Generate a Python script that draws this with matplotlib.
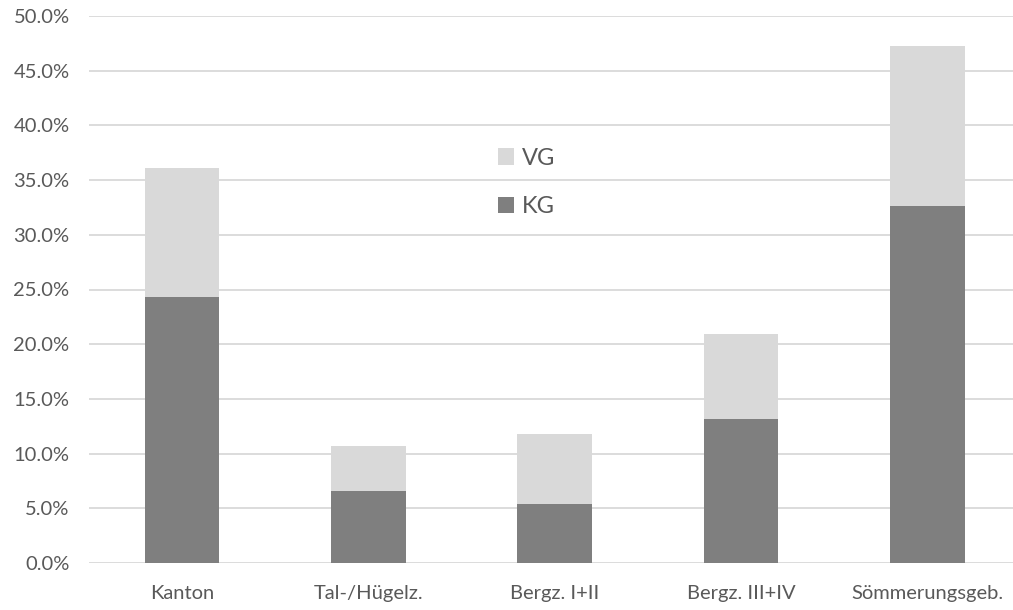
import numpy as np
import matplotlib
matplotlib.use("Agg")
import matplotlib.pyplot as plt
from matplotlib.ticker import PercentFormatter

plt.rcParams['font.family'] = ['Lato', 'DejaVu Sans']

# Anteile pro Zone (in %)
zonen = ["Kanton", "Tal-/Hügelz.", "Bergz. I+II", "Bergz. III+IV", "Sömmerungsgeb."]
kg = [24.3, 6.6, 5.4, 13.2, 32.6]
vg_gesamt = [36.1, 10.7, 11.8, 20.9, 47.3]
vg = [t - k for t, k in zip(vg_gesamt, kg)]

fig = plt.figure(figsize=(10.13, 6.10), dpi=100)
ax = fig.add_axes([89 / 1013, 1 - 563 / 610, 1 - 89 / 1013, (563 - 16) / 610])

x = np.arange(len(zonen))
b_kg = ax.bar(x, kg, width=0.40, color="#7f7f7f", label="KG", zorder=3)
b_vg = ax.bar(x, vg, width=0.40, bottom=kg, color="#d9d9d9", label="VG", zorder=3)

ax.set_ylim(0, 50)
ax.set_xlim(-0.5, 4.46)
ax.set_yticks(np.arange(0, 50.1, 5))
ax.yaxis.set_major_formatter(PercentFormatter(decimals=1))
ax.set_xticks(x)
ax.set_xticklabels(zonen)
ax.grid(axis="y", color="#d9d9d9", linewidth=1.3, zorder=0)
ax.tick_params(axis="y", length=0, pad=14, labelsize=14.5, labelcolor="#595959")
ax.tick_params(axis="x", length=0, pad=16, labelsize=14.5, labelcolor="#595959")
for s in ax.spines.values():
    s.set_visible(False)

leg = ax.legend(handles=[b_vg, b_kg], loc="upper left",
                bbox_to_anchor=(486 / 1013, 1 - 136 / 610), bbox_transform=fig.transFigure,
                frameon=False, fontsize=17, handlelength=0.68, handleheight=0.68,
                handletextpad=0.35, labelspacing=1.15, borderpad=0)
for t in leg.get_texts():
    t.set_color("#595959")

fig.savefig("out.png", dpi=100)
